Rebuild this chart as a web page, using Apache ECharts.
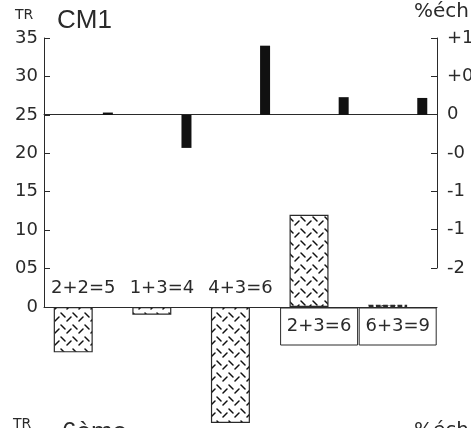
<!DOCTYPE html>
<html>
<head>
<meta charset="utf-8">
<script src="https://cdn.jsdelivr.net/npm/echarts@6/dist/echarts.min.js"></script>
<style>
html,body{margin:0;padding:0;background:#fff}
#main{width:471px;height:428px}
</style>
</head>
<body>
<div id="main"></div>
<script>
// groupes (categories)
var groupes = ['2+2=5', '1+3=4', '4+3=6', '2+3=6', '6+3=9'];
// TR, axe de gauche (barres hachurees)
var trValeurs = [-5.9, -1.0, -15.1, 12.0, 0.3];
// %ech, axe de droite (barres noires)
var echValeurs = [0.03, -0.43, 0.90, 0.23, 0.22];
// libelles des graduations tels qu'imprimes
var trTicks = {'5': '05'};
var echTicks = {'1': '+1', '0.5': '+0', '0': '0', '-0.5': '-0', '-1': '-1', '-1.5': '-1', '-2': '-2'};
// libelles encadres sous l'axe
var encadre = [false, false, false, true, true];

var police = 'DejaVu Sans';
var encre = '#2a2a2a';

// motif de hachures
var tuile = document.createElement('canvas');
tuile.width = 12; tuile.height = 12;
var c = tuile.getContext('2d');
c.fillStyle = '#fff';
c.fillRect(0, 0, 12, 12);
c.strokeStyle = '#111';
c.lineWidth = 1.5;
c.lineCap = 'round';
c.beginPath();
c.moveTo(1, 1); c.lineTo(5, 5);
c.moveTo(11, 5); c.lineTo(7, 9);
c.stroke();

var trData = trValeurs.map(function (v, i) {
  return i === 4 ? {value: v, itemStyle: {borderType: 'dashed'}} : v;
});

var option = {
  animation: false,
  backgroundColor: '#fff',
  textStyle: {fontFamily: police},
  grid: [
    {left: 44, right: 34, top: 38, bottom: 121, outerBoundsMode: 'none'},
    {left: 44, right: 34, top: 38, bottom: 160, outerBoundsMode: 'none'}
  ],
  graphic: [
    {type: 'text', left: 15, top: 8, style: {text: 'TR', font: '14px ' + police, fill: encre}},
    {type: 'text', left: 57, top: 8, style: {text: 'CM1', font: '26px "Liberation Sans"', fill: encre}},
    {type: 'text', left: 414, top: 2, style: {text: '%éch', font: '20px ' + police, fill: encre}},
    {type: 'text', left: 13, top: 417, style: {text: 'TR', font: '14px ' + police, fill: encre}},
    {type: 'text', left: 62, top: 420, style: {text: '6ème', font: '26px "Liberation Sans"', fill: encre}},
    {type: 'text', left: 414, top: 421, style: {text: '%éch', font: '20px ' + police, fill: encre}}
  ],
  xAxis: [
    {
      type: 'category', gridIndex: 0, data: groupes,
      axisLine: {lineStyle: {color: encre, width: 1}},
      axisTick: {show: false},
      axisLabel: {
        inside: true, interval: 0, margin: 10,
        color: encre, fontSize: 18, fontFamily: police,
        formatter: function (v, i) { return encadre[i] ? '' : v; }
      }
    },
    {
      type: 'category', gridIndex: 0, data: groupes, position: 'bottom',
      axisLine: {show: false},
      axisTick: {show: false},
      axisLabel: {
        interval: 0, margin: 1,
        formatter: function (v, i) { return encadre[i] ? '{b|' + v + '}' : ''; },
        rich: {
          b: {
            color: encre, fontSize: 18, fontFamily: police,
            borderColor: encre, borderWidth: 1,
            width: 77, height: 37, lineHeight: 37, align: 'center'
          }
        }
      }
    },
    {
      type: 'category', gridIndex: 1, data: groupes,
      axisLine: {onZero: true, lineStyle: {color: encre, width: 1}},
      axisTick: {show: false},
      axisLabel: {show: false}
    }
  ],
  yAxis: [
    {
      type: 'value', gridIndex: 0, min: 0, max: 35, interval: 5,
      axisLine: {show: true, lineStyle: {color: encre}},
      axisTick: {show: true, inside: true, length: 6, lineStyle: {color: encre}},
      splitLine: {show: false},
      axisLabel: {
        margin: 6, color: encre, fontSize: 18, fontFamily: police,
        formatter: function (v) { return trTicks[v] || String(v); }
      }
    },
    {
      type: 'value', gridIndex: 0, min: -2.5, max: 1, interval: 0.5, show: false,
      splitLine: {show: false}
    },
    {
      type: 'value', gridIndex: 1, position: 'right', min: -2, max: 1, interval: 0.5,
      axisLine: {show: true, lineStyle: {color: encre}},
      axisTick: {show: true, inside: true, length: 6, lineStyle: {color: encre}},
      splitLine: {show: false},
      axisLabel: {
        margin: 10, color: encre, fontSize: 18, fontFamily: police,
        formatter: function (v) { return echTicks[String(v)] || String(v); }
      }
    }
  ],
  series: [
    {
      name: 'TR', type: 'bar', xAxisIndex: 0, yAxisIndex: 0,
      data: trData, barWidth: 39, barGap: '26%', clip: false,
      itemStyle: {color: {image: tuile, repeat: 'repeat'}, borderColor: encre, borderWidth: 1.2}
    },
    {
      name: '%éch', type: 'bar', xAxisIndex: 0, yAxisIndex: 1,
      data: echValeurs, barWidth: 10, barGap: '26%', clip: false,
      itemStyle: {color: '#111'}
    }
  ]
};

var myChart = echarts.init(document.getElementById('main'));
myChart.setOption(option);
</script>
</body>
</html>
